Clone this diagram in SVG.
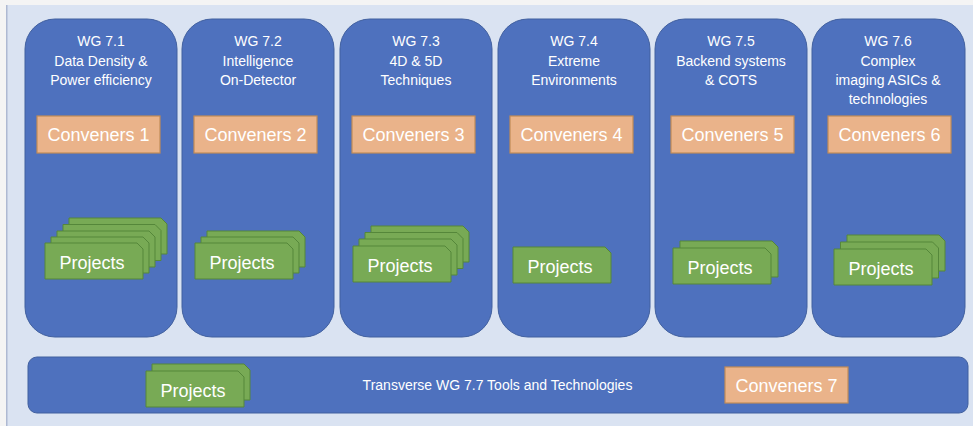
<svg xmlns="http://www.w3.org/2000/svg" width="973" height="426" viewBox="0 0 973 426">
  <style>
    .wg { fill: #4e71be; stroke: #41609f; stroke-width: 1; }
    .conv { fill: #eab38a; stroke: #c08a57; stroke-width: 1.2; }
    .proj { fill: #78aa55; stroke: #55873a; stroke-width: 1; }
    text { font-family: "Liberation Sans", Arial, sans-serif; fill: #ffffff; text-anchor: middle; }
    .title { font-size: 14px; }
    .cl { font-size: 18px; }
    .pl { font-size: 18px; }
  </style>
  <defs>
    <!-- project card with a snipped top-right corner -->
    <path id="card" class="proj" d="M0 0 H92 L98 6 V36 H0 Z"/>
  </defs>

  <!-- page and panel background -->
  <rect x="0" y="0" width="973" height="426" fill="#f4f4f4"/>
  <rect x="6" y="5" width="967" height="421" fill="#dae3f2"/>
  <line x1="6.75" y1="5" x2="6.75" y2="426" stroke="#aeb9d2" stroke-width="1.5"/>

  <!-- working group columns -->
  <g id="wg71">
    <rect class="wg" x="25" y="19" width="152" height="318" rx="30" ry="30"/>
    <text class="title" x="101" y="46">WG 7.1</text>
    <text class="title" x="101" y="65.5">Data Density &amp;</text>
    <text class="title" x="101" y="85">Power efficiency</text>
    <rect class="conv" x="37" y="116" width="123" height="37"/>
    <text class="cl" x="98.5" y="141">Conveners 1</text>
    <use href="#card" x="69" y="218"/>
    <use href="#card" x="63" y="224.5"/>
    <use href="#card" x="57" y="231"/>
    <use href="#card" x="51" y="237"/>
    <use href="#card" x="45" y="243"/>
    <text class="pl" x="92" y="268.5">Projects</text>
  </g>

  <g id="wg72">
    <rect class="wg" x="182" y="19" width="152" height="318" rx="30" ry="30"/>
    <text class="title" x="258" y="46">WG 7.2</text>
    <text class="title" x="258" y="65.5">Intelligence</text>
    <text class="title" x="258" y="85">On-Detector</text>
    <rect class="conv" x="194" y="116" width="123" height="37"/>
    <text class="cl" x="255.5" y="141">Conveners 2</text>
    <use href="#card" x="207" y="231"/>
    <use href="#card" x="201" y="237"/>
    <use href="#card" x="195" y="243"/>
    <text class="pl" x="242" y="269">Projects</text>
  </g>

  <g id="wg73">
    <rect class="wg" x="340" y="19" width="152" height="318" rx="30" ry="30"/>
    <text class="title" x="416" y="46">WG 7.3</text>
    <text class="title" x="416" y="65.5">4D &amp; 5D</text>
    <text class="title" x="416" y="85">Techniques</text>
    <rect class="conv" x="352" y="116" width="123" height="37"/>
    <text class="cl" x="413.5" y="141">Conveners 3</text>
    <use href="#card" x="371" y="226"/>
    <use href="#card" x="365" y="232.5"/>
    <use href="#card" x="359" y="239"/>
    <use href="#card" x="353" y="246"/>
    <text class="pl" x="400" y="272">Projects</text>
  </g>

  <g id="wg74">
    <rect class="wg" x="498" y="19" width="152" height="318" rx="30" ry="30"/>
    <text class="title" x="574" y="46">WG 7.4</text>
    <text class="title" x="574" y="65.5">Extreme</text>
    <text class="title" x="574" y="85">Environments</text>
    <rect class="conv" x="510" y="116" width="123" height="37"/>
    <text class="cl" x="571.5" y="141">Conveners 4</text>
    <use href="#card" x="513" y="247"/>
    <text class="pl" x="560" y="273">Projects</text>
  </g>

  <g id="wg75">
    <rect class="wg" x="655" y="19" width="152" height="318" rx="30" ry="30"/>
    <text class="title" x="731" y="46">WG 7.5</text>
    <text class="title" x="731" y="65.5">Backend systems</text>
    <text class="title" x="731" y="85">&amp; COTS</text>
    <rect class="conv" x="671" y="116" width="123" height="37"/>
    <text class="cl" x="732.5" y="141">Conveners 5</text>
    <use href="#card" x="680" y="241"/>
    <use href="#card" x="673" y="248"/>
    <text class="pl" x="720" y="274">Projects</text>
  </g>

  <g id="wg76">
    <rect class="wg" x="812" y="19" width="153" height="318" rx="30" ry="30"/>
    <text class="title" x="888" y="46">WG 7.6</text>
    <text class="title" x="888" y="65.5">Complex</text>
    <text class="title" x="888" y="85">imaging ASICs &amp;</text>
    <text class="title" x="888" y="104">technologies</text>
    <rect class="conv" x="828" y="116" width="123" height="37"/>
    <text class="cl" x="889.5" y="141">Conveners 6</text>
    <use href="#card" x="847" y="235"/>
    <use href="#card" x="840.5" y="242"/>
    <use href="#card" x="834" y="249"/>
    <text class="pl" x="881" y="275">Projects</text>
  </g>

  <!-- transverse working group bar -->
  <g id="wg77">
    <rect class="wg" x="28" y="357" width="940" height="56" rx="9" ry="9"/>
    <use href="#card" x="152" y="364"/>
    <use href="#card" x="146" y="371"/>
    <text class="pl" x="193" y="397">Projects</text>
    <text class="title" x="497.5" y="390">Transverse WG 7.7 Tools and Technologies</text>
    <rect class="conv" x="725" y="367" width="123" height="36"/>
    <text class="cl" x="786.5" y="392">Conveners 7</text>
  </g>

  <g id="connectors"></g>
</svg>
